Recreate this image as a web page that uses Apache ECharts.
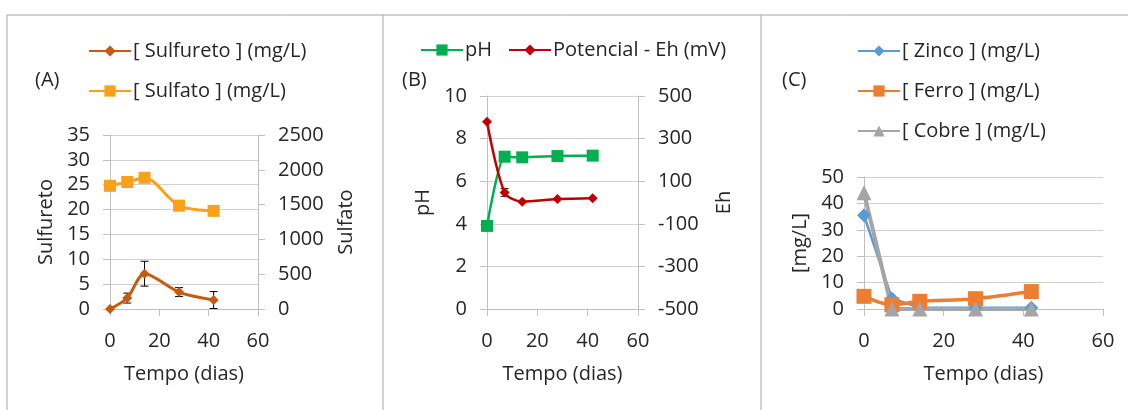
<!DOCTYPE html>
<html>
<head>
<meta charset="utf-8">
<script src="https://cdn.jsdelivr.net/npm/echarts@6/dist/echarts.min.js"></script>
<style>
  html, body { margin: 0; padding: 0; background: #fff; }
  #chart { width: 1128px; height: 410px; }
</style>
</head>
<body>
<div id="chart"></div>
<script>
// tempo (dias)
var dias = [0, 7, 14, 28, 42];

// (A)
var sulfureto = [0, 2.2, 7.1, 3.4, 1.8];
var sulfuretoErr = [0, 1.0, 2.5, 0.9, 1.7];
var sulfato = [1770, 1825, 1885, 1485, 1410];
var sulfatoErr = [0, 30, 60, 0, 40];

// (B)
var ph = [3.9, 7.15, 7.12, 7.18, 7.2];
var phErr = [0, 0.1, 0.15, 0, 0];
var eh = [379, 47, 4, 16, 20];
var ehErr = [0, 18, 0, 0, 0];

// (C)
var zinco = [35.5, 4, 0.5, 0.5, 0.5];
var ferro = [4.8, 1.6, 2.9, 3.9, 6.6];
var cobre = [44, 0, 0, 0, 0];

var FONT = 'Open Sans';
var FS = 20;
var TXT = '#262626';
var GRID = '#d0d0d0';
var AX = '#bfbfbf';

function pairs(ys) {
  return dias.map(function(d, i) { return [d, ys[i]]; });
}
function errData(ys, es) {
  return dias.map(function(d, i) { return [d, ys[i], es[i]]; });
}

function errSeries(ys, es, xi, yi) {
  return {
    type: 'custom',
    xAxisIndex: xi,
    yAxisIndex: yi,
    clip: false,
    z: 1,
    silent: true,
    encode: { x: 0, y: 1 },
    data: errData(ys, es),
    renderItem: function(params, api) {
      var x = api.value(0), y = api.value(1), e = api.value(2);
      if (!e) return null;
      var hi = api.coord([x, y + e]);
      var lo = api.coord([x, y - e]);
      var st = { stroke: '#000', lineWidth: 1 };
      return {
        type: 'group',
        children: [
          { type: 'line', shape: { x1: hi[0], y1: hi[1], x2: lo[0], y2: lo[1] }, style: st },
          { type: 'line', shape: { x1: hi[0] - 4, y1: hi[1], x2: hi[0] + 4, y2: hi[1] }, style: st },
          { type: 'line', shape: { x1: lo[0] - 4, y1: lo[1], x2: lo[0] + 4, y2: lo[1] }, style: st }
        ]
      };
    }
  };
}

function plain(v) { return String(v); }

function xAx(gi) {
  return {
    type: 'value', gridIndex: gi, min: 0, max: 60, interval: 20,
    name: 'Tempo (dias)', nameLocation: 'middle', nameGap: 55,
    nameTextStyle: { fontFamily: FONT, fontSize: FS, color: TXT },
    axisLine: { show: true, lineStyle: { color: AX } },
    axisTick: { show: true, length: 7, lineStyle: { color: AX } },
    axisLabel: { margin: 22, fontFamily: FONT, fontSize: FS, color: TXT, formatter: plain },
    splitLine: { show: false }
  };
}

function yAx(gi, min, max, step, name, pos, gap, grid) {
  return {
    type: 'value', gridIndex: gi, min: min, max: max, interval: step,
    position: pos,
    name: name, nameLocation: 'middle', nameGap: gap,
    nameTextStyle: { fontFamily: FONT, fontSize: FS, color: TXT },
    axisLine: { show: true, lineStyle: { color: AX } },
    axisTick: { show: true, length: 7, lineStyle: { color: AX } },
    axisLabel: { margin: 20, fontFamily: FONT, fontSize: FS, color: TXT, formatter: plain },
    splitLine: { show: grid, lineStyle: { color: GRID } }
  };
}

function line(name, ys, color, symbol, size, width, xi, yi, smooth) {
  return {
    name: name, type: 'line', xAxisIndex: xi, yAxisIndex: yi,
    data: pairs(ys), smooth: smooth, z: 3,
    symbol: symbol, symbolSize: size,
    lineStyle: { color: color, width: width },
    itemStyle: { color: color },
    animation: false
  };
}

function legend(names, left, top, orient) {
  return {
    data: names, left: left, top: top, orient: orient,
    itemWidth: 42, itemHeight: 14, itemGap: orient === 'vertical' ? 20 : 16,
    selectedMode: false,
    textStyle: { fontFamily: FONT, fontSize: FS, color: TXT, padding: [0, 0, 0, -3] }
  };
}

function label(txt, x, y) {
  return { type: 'text', left: x, top: y, style: { text: txt, font: FS + 'px "' + FONT + '"', fill: TXT } };
}
function rule(x1, y1, x2, y2) {
  return { type: 'line', shape: { x1: x1, y1: y1, x2: x2, y2: y2 }, style: { stroke: '#a6a6a6', lineWidth: 1 } };
}

var chart = echarts.init(document.getElementById('chart'), null, { renderer: 'canvas' });
chart.setOption({
  animation: false,
  grid: [
    { left: 110, top: 135, width: 148, height: 174 },
    { left: 487, top: 96, width: 151, height: 213 },
    { left: 864, top: 177, width: 239, height: 132 }
  ],
  xAxis: [xAx(0), xAx(1), xAx(2)],
  yAxis: [
    yAx(0, 0, 35, 5, 'Sulfureto', 'left', 54, true),
    yAx(0, 0, 2500, 500, 'Sulfato', 'right', 78, false),
    yAx(1, 0, 10, 2, 'pH', 'left', 54, true),
    yAx(1, -500, 500, 200, 'Eh', 'right', 76, false),
    yAx(2, 0, 50, 10, '[mg/L]', 'left', 54, true)
  ],
  legend: [
    legend(['[ Sulfureto ] (mg/L)', '[ Sulfato ] (mg/L)'], 83, 36, 'vertical'),
    legend(['pH', 'Potencial - Eh (mV)'], 415, 35, 'horizontal'),
    legend(['[ Zinco ] (mg/L)', '[ Ferro ] (mg/L)', '[ Cobre ] (mg/L)'], 852, 36, 'vertical')
  ],
  graphic: [
    rule(7, 15, 1128, 15),
    rule(7, 15, 7, 410),
    rule(383, 15, 383, 410),
    rule(761, 15, 761, 410),
    label('(A)', 35, 70),
    label('(B)', 402, 70),
    label('(C)', 782, 70)
  ],
  series: [
    line('[ Sulfureto ] (mg/L)', sulfureto, '#c55a11', 'diamond', 10, 3, 0, 0, 0.3),
    line('[ Sulfato ] (mg/L)', sulfato, '#f9a11b', 'rect', 12, 3, 0, 1, 0.3),
    errSeries(sulfureto, sulfuretoErr, 0, 0),
    errSeries(sulfato, sulfatoErr, 0, 1),
    line('pH', ph, '#00b050', 'rect', 12, 2.5, 1, 2, 0.2),
    line('Potencial - Eh (mV)', eh, '#c00000', 'diamond', 10, 2.5, 1, 3, 0.3),
    errSeries(ph, phErr, 1, 2),
    errSeries(eh, ehErr, 1, 3),
    line('[ Zinco ] (mg/L)', zinco, '#5b9bd5', 'diamond', 14, 2.5, 2, 4, false),
    line('[ Ferro ] (mg/L)', ferro, '#ed7d31', 'rect', 15, 3.5, 2, 4, 0.3),
    line('[ Cobre ] (mg/L)', cobre, '#a5a5a5', 'triangle', 15, 4, 2, 4, false)
  ]
});
</script>
</body>
</html>
